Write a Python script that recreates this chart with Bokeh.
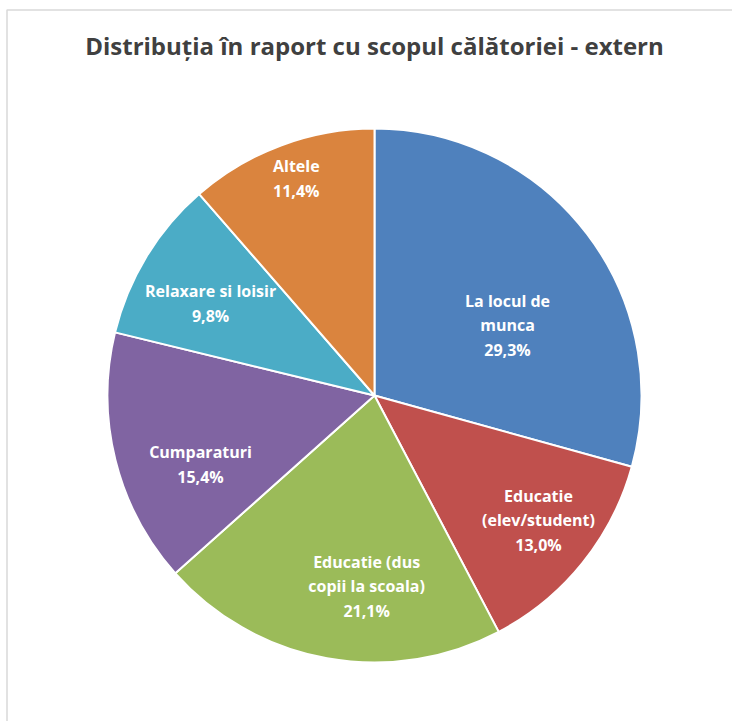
import math
import numpy as np
from bokeh.plotting import figure
from bokeh.models import ColumnDataSource, Range1d
from bokeh.core.properties import value
from bokeh.embed import file_html
from bokeh.resources import INLINE

# ---- data ----
title = "Distribuția în raport cu scopul călătoriei - extern"
categories = ["La locul de\nmunca", "Educatie\n(elev/student)", "Educatie (dus\ncopii la scoala)",
              "Cumparaturi", "Relaxare si loisir", "Altele"]
values = [29.3, 13.0, 21.1, 15.4, 9.8, 11.4]
colors = ["#4F81BD", "#C0504D", "#9BBB59", "#8064A2", "#4BACC6", "#DA843E"]

# ---- layout (label placement, like Excel's best fit) ----
label_radius_frac = [0.563, 0.772, 0.716, 0.701, 0.704, 0.864]
label_nudge_deg = [-9.5, 1.6, 7.9, 7.6, 2.0, -0.7]

W, H = 732, 721
cx, cy, R = 374, 326, 267

vals = np.array(values, dtype=float)
frac = vals / vals.sum()
cum = np.concatenate([[0.0], np.cumsum(frac)])
start = math.pi / 2 - 2 * math.pi * cum[:-1]
end = math.pi / 2 - 2 * math.pi * cum[1:]
mid = (start + end) / 2 + np.radians(label_nudge_deg)
lx = cx + np.array(label_radius_frac) * R * np.cos(mid)
ly = cy + np.array(label_radius_frac) * R * np.sin(mid)
labels = [f"{c}\n{v:.1f}".replace(".", ",") + "%" for c, v in zip(categories, values)]

src = ColumnDataSource(dict(start=start, end=end, color=colors, lx=lx, ly=ly, label=labels))

p = figure(width=W, height=H, x_range=Range1d(0, W), y_range=Range1d(0, H),
           output_backend="svg", toolbar_location=None,
           x_axis_location=None, y_axis_location=None, min_border=0,
           outline_line_color=None, background_fill_color="white", border_fill_color="white")
p.grid.visible = False

p.wedge(x=cx, y=cy, radius=R, start_angle="start", end_angle="end", direction="clock",
        fill_color="color", line_color="white", line_width=2, source=src)

p.text(x="lx", y="ly", text="label", source=src, text_color="white",
       text_font=value("Open Sans"), text_font_style="bold", text_font_size="16px",
       text_align="center", text_baseline="middle", text_line_height=1.1)

p.text(x=[cx], y=[676], text=[title], text_color="#404040",
       text_font=value("Open Sans"), text_font_style="bold", text_font_size="24px",
       text_align="center", text_baseline="middle")

# chart area border (top and left visible)
p.line(x=[6.5, 6.5, W], y=[0, 711.5, 711.5], line_color="#d9d9d9", line_width=1.5)

open("out.html", "w").write(file_html(p, INLINE))
